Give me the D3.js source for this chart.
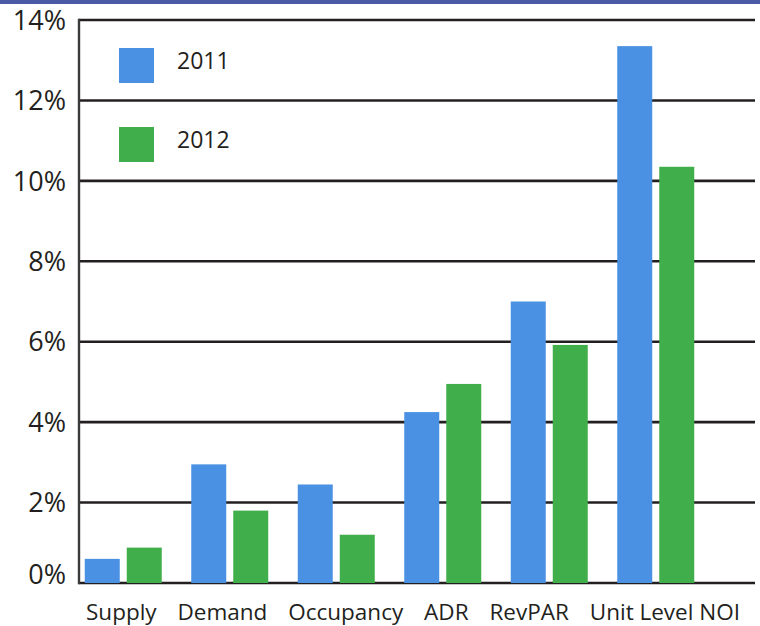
<!DOCTYPE html>
<html>
<head>
<meta charset="utf-8">
<script src="https://cdn.jsdelivr.net/npm/d3@7/dist/d3.min.js"></script>
<style>
  html, body { margin: 0; padding: 0; background: #ffffff; }
  svg { display: block; }
</style>
</head>
<body>
<div id="chart"></div>
<script>
// Year-over-year growth by performance metric
const categories = ["Supply", "Demand", "Occupancy", "ADR", "RevPAR", "Unit Level NOI"];
const seriesNames = ["2011", "2012"];
const values2011 = [0.6, 2.95, 2.45, 4.25, 7.0, 13.35];
const values2012 = [0.88, 1.8, 1.2, 4.95, 5.92, 10.35];
const yTicks = [0, 2, 4, 6, 8, 10, 12, 14];

const seriesValues = [values2011, values2012];
const colors = ["#4a91e3", "#40ae4a"];
const ink = "#231f20";
const font = "'Open Sans', sans-serif";

const W = 760, H = 626;
const svg = d3.select("#chart").append("svg")
  .attr("width", W).attr("height", H);

// Title band along the top edge
svg.append("rect")
  .attr("x", 0).attr("y", 0).attr("width", W).attr("height", 4)
  .attr("fill", "#4b5aa5");

const plotLeft = 79, plotRight = 755;
const y = d3.scaleLinear().domain([0, 14]).range([583, 20]);
const x = d3.scaleBand().domain(categories).range([70, 709]);
const xInner = d3.scaleBand().domain(seriesNames).range([0, 77]).paddingInner(7 / 42);

// Horizontal gridlines
svg.append("g")
  .selectAll("line")
  .data(yTicks)
  .join("line")
  .attr("x1", plotLeft).attr("x2", plotRight)
  .attr("y1", d => y(d)).attr("y2", d => y(d))
  .attr("stroke", ink)
  .attr("stroke-width", 2.6);

// Vertical axis line
svg.append("line")
  .attr("x1", plotLeft).attr("x2", plotLeft)
  .attr("y1", y(14) - 1.3).attr("y2", y(0) + 1.3)
  .attr("stroke", "#3a3a3a")
  .attr("stroke-width", 2.4);

// Bars
const groups = svg.append("g")
  .selectAll("g")
  .data(categories)
  .join("g")
  .attr("transform", c => `translate(${x(c) + x.bandwidth() / 2 - 38.5},0)`);

groups.selectAll("rect")
  .data((c, i) => seriesNames.map((s, k) => ({ s, k, v: seriesValues[k][i] })))
  .join("rect")
  .attr("x", d => xInner(d.s))
  .attr("width", xInner.bandwidth())
  .attr("y", d => y(d.v))
  .attr("height", d => y(0) - y(d.v))
  .attr("fill", d => colors[d.k]);

// Y tick labels
svg.append("g")
  .selectAll("text")
  .data(yTicks)
  .join("text")
  .attr("x", 66)
  .attr("y", d => y(d))
  .attr("dy", d => d === 0 ? "0.05em" : "0.36em")
  .attr("text-anchor", "end")
  .attr("font-family", font)
  .attr("font-size", 27)
  .attr("fill", ink)
  .text(d => d + "%");

// Category labels: laid out in a row with equal gaps between them
const catLabels = svg.append("g")
  .selectAll("text")
  .data(categories)
  .join("text")
  .attr("y", 619.5)
  .attr("font-family", font)
  .attr("font-size", 22.5)
  .attr("fill", ink)
  .text(c => c);

const rowStart = 86, rowEnd = 740;
const widths = catLabels.nodes().map(n => n.getComputedTextLength());
const gap = (rowEnd - rowStart - d3.sum(widths)) / (widths.length - 1);
const starts = [];
widths.reduce((pos, w) => { starts.push(pos); return pos + w + gap; }, rowStart);
catLabels.attr("x", (c, i) => starts[i]);

// Legend
const legend = svg.append("g")
  .selectAll("g")
  .data(seriesNames)
  .join("g")
  .attr("transform", (s, k) => `translate(119,${48 + k * 79})`);

legend.append("rect")
  .attr("width", 35).attr("height", 35)
  .attr("fill", (s, k) => colors[k]);

legend.append("text")
  .attr("x", 58).attr("y", 20.5)
  .attr("font-family", font)
  .attr("font-size", 23)
  .attr("fill", ink)
  .text(s => s);
</script>
</body>
</html>
